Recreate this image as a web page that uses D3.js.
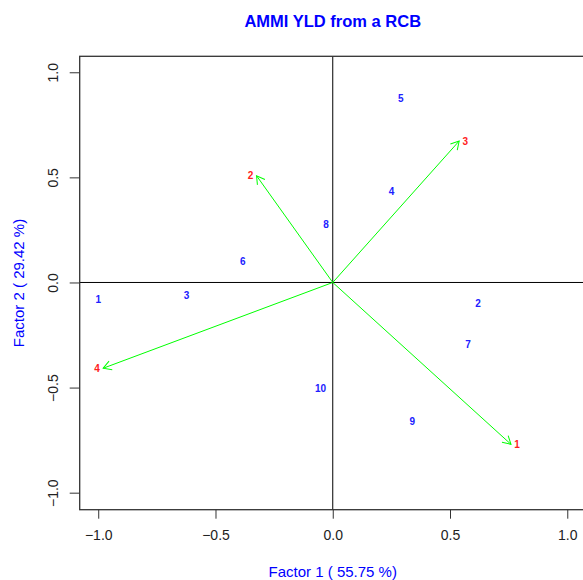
<!DOCTYPE html>
<html>
<head>
<meta charset="utf-8">
<script src="https://cdn.jsdelivr.net/npm/d3@7"></script>
<style>
  body { margin: 0; background: #fff; }
  text { font-family: "Liberation Sans", Arial, sans-serif; }
</style>
</head>
<body>
<script>
// Genotype scores (blue labels)
var genotypes = ['1', '2', '3', '4', '5', '6', '7', '8', '9', '10']
var genoF1 = [-1.000, 0.620, -0.623, 0.251, 0.290, -0.384, 0.577, -0.029, 0.339, -0.052]
var genoF2 = [-0.080, -0.102, -0.063, 0.431, 0.873, 0.099, -0.293, 0.275, -0.660, -0.503]
// Environment scores (red labels, green arrows)
var envs  = ['1', '2', '3', '4']
var envF1 = [0.760, -0.325, 0.539, -0.979]
var envF2 = [-0.770, 0.508, 0.673, -0.408]
// Axis ticks
var ticks = [-1.0, -0.5, 0.0, 0.5, 1.0]

var width   = 583
var height  = 580
var plotL   = 79.7
var plotR   = 585.8
var plotT   = 56.3
var plotB   = 509.7

var svg = d3.select('body')
            .append('svg')
            .attr('width', width)
            .attr('height', height)

// Scales
var x = d3.scaleLinear().domain([-1.079, 1.079]).range([plotL, plotR])
var y = d3.scaleLinear().domain([-1.081, 1.076]).range([plotB, plotT])

// Title
svg.append('text')
   .attr('x', (plotL + plotR) / 2)
   .attr('y', 21)
   .attr('dy', '0.35em')
   .attr('text-anchor', 'middle')
   .attr('font-size', '16.5px')
   .attr('font-weight', 'bold')
   .attr('fill', '#0000ff')
   .text('AMMI YLD from a RCB')

// X axis
var xAxis = svg.append('g')
               .attr('transform', 'translate(0,' + plotB + ')')
               .call(d3.axisBottom(x).tickValues(ticks).tickFormat(d3.format('.1f'))
                       .tickSize(9).tickSizeOuter(0).tickPadding(11))
xAxis.select('.domain').remove()
xAxis.selectAll('line').attr('stroke', '#333')
xAxis.selectAll('text')
     .attr('font-size', '14px')
     .attr('fill', '#222')
     .attr('font-family', '"Liberation Sans", Arial, sans-serif')

// Y axis
var yAxis = svg.append('g')
               .attr('transform', 'translate(' + plotL + ',0)')
               .call(d3.axisLeft(y).tickValues(ticks).tickFormat(d3.format('.1f'))
                       .tickSize(10).tickSizeOuter(0))
yAxis.select('.domain').remove()
yAxis.selectAll('line').attr('stroke', '#333')
yAxis.selectAll('text')
     .attr('x', null)
     .attr('dy', '0.35em')
     .attr('text-anchor', 'middle')
     .attr('transform', 'translate(-27,0) rotate(-90)')
     .attr('font-size', '14px')
     .attr('fill', '#222')
     .attr('font-family', '"Liberation Sans", Arial, sans-serif')

// Axis titles
svg.append('text')
   .attr('x', (plotL + plotR) / 2)
   .attr('y', 571.5)
   .attr('dy', '0.35em')
   .attr('text-anchor', 'middle')
   .attr('font-size', '15px')
   .attr('fill', '#0000ff')
   .text('Factor 1 ( 55.75 %)')

svg.append('text')
   .attr('transform', 'translate(18.5,' + (plotT + plotB) / 2 + ') rotate(-90)')
   .attr('dy', '0.35em')
   .attr('text-anchor', 'middle')
   .attr('font-size', '15px')
   .attr('fill', '#0000ff')
   .text('Factor 2 ( 29.42 %)')

// Reference lines through origin
svg.append('line')
   .attr('x1', x(0)).attr('x2', x(0))
   .attr('y1', plotT).attr('y2', plotB)
   .attr('stroke', '#000').attr('stroke-width', 1)
svg.append('line')
   .attr('x1', plotL).attr('x2', plotR)
   .attr('y1', y(0)).attr('y2', y(0))
   .attr('stroke', '#000').attr('stroke-width', 1)

// Plot box
svg.append('rect')
   .attr('x', plotL).attr('y', plotT)
   .attr('width', plotR - plotL).attr('height', plotB - plotT)
   .attr('fill', 'none')
   .attr('stroke', '#333')
   .attr('stroke-width', 1.3)

// Arrowhead marker
svg.append('defs')
   .append('marker')
   .attr('id', 'head')
   .attr('markerUnits', 'userSpaceOnUse')
   .attr('viewBox', '-10 -6 12 12')
   .attr('markerWidth', 12)
   .attr('markerHeight', 12)
   .attr('refX', 0)
   .attr('refY', 0)
   .attr('orient', 'auto')
   .append('path')
   .attr('d', 'M-8,-4.6L0,0L-8,4.6')
   .attr('fill', 'none')
   .attr('stroke', '#00ff00')
   .attr('stroke-width', 1)

// Environment arrows
svg.append('g')
   .selectAll('line')
   .data(envs)
   .enter()
   .append('line')
   .attr('x1', x(0))
   .attr('y1', y(0))
   .attr('x2', (d, i) => x(envF1[i]))
   .attr('y2', (d, i) => y(envF2[i]))
   .attr('stroke', '#00ff00')
   .attr('stroke-width', 1)
   .attr('marker-end', 'url(#head)')

// Environment labels
svg.append('g')
   .selectAll('text')
   .data(envs)
   .enter()
   .append('text')
   .attr('x', (d, i) => x(envF1[i]) + (envF1[i] > 0 ? 6 : -6))
   .attr('y', (d, i) => y(envF2[i]))
   .attr('dy', '0.35em')
   .attr('text-anchor', 'middle')
   .attr('font-size', '10px')
   .attr('font-weight', 'bold')
   .attr('fill', '#ff2020')
   .text(d => d)

// Genotype labels
svg.append('g')
   .selectAll('text')
   .data(genotypes)
   .enter()
   .append('text')
   .attr('x', (d, i) => x(genoF1[i]))
   .attr('y', (d, i) => y(genoF2[i]))
   .attr('dy', '0.35em')
   .attr('text-anchor', 'middle')
   .attr('font-size', '10px')
   .attr('font-weight', 'bold')
   .attr('fill', '#2020ff')
   .text(d => d)
</script>
</body>
</html>
